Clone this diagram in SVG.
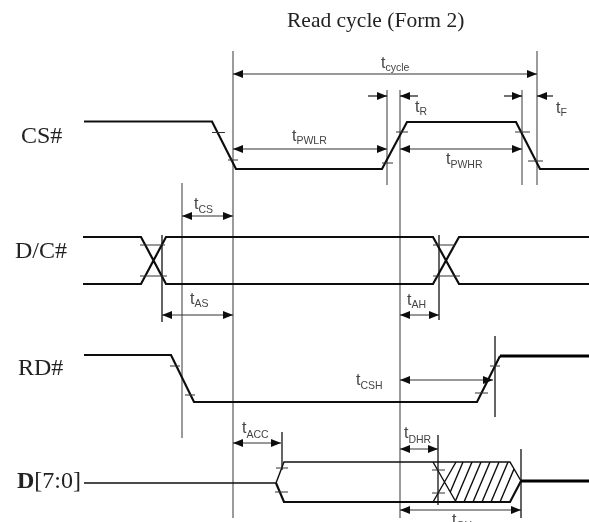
<svg xmlns="http://www.w3.org/2000/svg" width="589" height="522" viewBox="0 0 589 522">
<defs>
<marker id="ah" viewBox="0 0 10 8" refX="10" refY="4" markerWidth="10" markerHeight="8" markerUnits="userSpaceOnUse" orient="auto-start-reverse"><path d="M0 0L10 4L0 8Z" fill="#111"/></marker>
<filter id="soft" x="0" y="0" width="1" height="1"><feGaussianBlur stdDeviation="0.55"/></filter>
<clipPath id="hatch"><path d="M456 462L444.500 482L456 502H510L521 481L510 462Z"/></clipPath>
</defs>
<style>
.sig{fill:none;stroke:#111;stroke-width:2.2}
.thick{fill:none;stroke:#000;stroke-width:3}
.thin{fill:none;stroke:#111;stroke-width:1.4}
.v{fill:none;stroke:#666;stroke-width:1.3}
.vd{fill:none;stroke:#222;stroke-width:1.4}
.t{fill:none;stroke:#333;stroke-width:1.1}
.dim{fill:none;stroke:#333;stroke-width:1.1;marker-start:url(#ah);marker-end:url(#ah)}
.one{fill:none;stroke:#111;stroke-width:1.2;marker-end:url(#ah)}
.lab{font-family:"Liberation Serif",serif;font-size:24px;fill:#222}
.title{font-family:"Liberation Serif",serif;font-size:21.500px;fill:#222}
.tm{font-family:"Liberation Sans",sans-serif;font-size:16px;fill:#444}
.tm tspan{font-size:10.500px}
</style>
<rect width="589" height="522" fill="#fff"/>
<g filter="url(#soft)">
<text class="title" x="287" y="27">Read cycle (Form 2)</text>
<g id="connectors">
<path class="v" d="M233 51V518M400 90V518M537 51V185M387 90V185M522 90V185M182 183V438"/>
<path class="vd" d="M162 235V322M439 235V320M495 336V417M282 432V470M438 435V505M521 449V518"/>
<path class="dim" d="M233 74H537"/>
<path class="one" d="M368 96H387"/><path class="one" d="M418 96H400"/><path class="one" d="M504 96H522"/><path class="one" d="M553 96H537"/>
<path class="dim" d="M233 149H387"/><path class="dim" d="M400 149H522"/><path class="dim" d="M182 216H233"/><path class="dim" d="M162 315H233"/><path class="dim" d="M400 315H439"/><path class="dim" d="M400 380H493"/><path class="dim" d="M233 443H281"/><path class="dim" d="M400 449H438"/><path class="dim" d="M400 510H521"/>
</g>
<g id="cs"><text class="lab" x="21" y="143">CS#</text>
<path class="sig" d="M84 121.500H212L236 169H382L407 122H516L540 169H589"/>
<path class="t" d="M212 132.500H225M228 160H238M382 163H393M396 132H408M515 132H530M528 161H543"/></g>
<g id="dc"><text class="lab" x="15" y="258">D/C#</text>
<path class="sig" d="M83 237H141L166 284H433L459 237H589M83 284H141L166 237H433L459 284H589"/>
<path class="t" d="M140 245H165M140 276H167M433 245H455M433 276H460"/></g>
<g id="rd"><text class="lab" x="18" y="375">RD#</text>
<path class="sig" d="M84 355H171L194 402H477L500 356"/>
<path class="thick" d="M500 356H589"/>
<path class="t" d="M170 366H180M185 395H195M490 366H500M475 393H488"/></g>
<g id="d"><text class="lab" x="17" y="488"><tspan font-weight="bold">D</tspan>[7:0]</text>
<path class="thin" d="M84 483H276L284 462H510L521 481"/>
<path class="sig" d="M276 483L284 502H510L521 481"/>
<path class="thick" d="M521 481H589"/>
<path class="thin" d="M433 462L456 502M433 502L456 462"/>
<path class="t" d="M276 468H288M275 492H288M432 470H445M432 493H445"/>
<path class="thin" clip-path="url(#hatch)" d="M463 462L446 502M472 462L455 502M481 462L464 502M490 462L473 502M499 462L482 502M508 462L491 502M517 462L500 502"/></g>
<g id="timings">
<text class="tm" x="381" y="68">t<tspan dy="3">cycle</tspan></text>
<text class="tm" x="415" y="112">t<tspan dy="3">R</tspan></text>
<text class="tm" x="556" y="113">t<tspan dy="3">F</tspan></text>
<text class="tm" x="292" y="141">t<tspan dy="3">PWLR</tspan></text>
<text class="tm" x="446" y="164">t<tspan dy="4">PWHR</tspan></text>
<text class="tm" x="194" y="209">t<tspan dy="4">CS</tspan></text>
<text class="tm" x="190" y="304">t<tspan dy="3">AS</tspan></text>
<text class="tm" x="407" y="305">t<tspan dy="3">AH</tspan></text>
<text class="tm" x="356" y="385">t<tspan dy="4">CSH</tspan></text>
<text class="tm" x="242" y="433">t<tspan dy="5">ACC</tspan></text>
<text class="tm" x="404" y="438">t<tspan dy="5">DHR</tspan></text>
<text class="tm" x="452" y="525">t<tspan dy="4">OH</tspan></text>
</g>
</g>
</svg>
